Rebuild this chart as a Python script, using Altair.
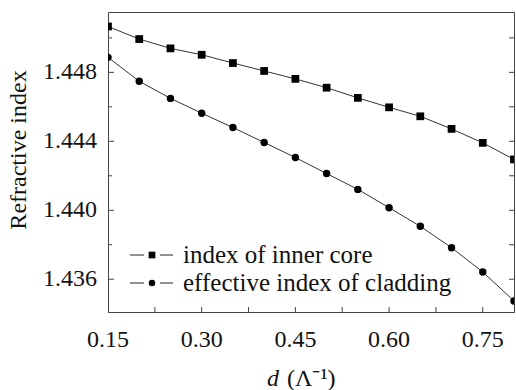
import altair as alt
import pandas as pd

# ---- data ----
d_vals = [0.15, 0.20, 0.25, 0.30, 0.35, 0.40, 0.45, 0.50, 0.55, 0.60, 0.65, 0.70, 0.75, 0.80]
inner_core = [1.45066, 1.44993, 1.44939, 1.44902, 1.44854, 1.44808, 1.44762, 1.44711,
              1.44652, 1.44597, 1.44545, 1.44472, 1.44391, 1.44295]
cladding = [1.44887, 1.44748, 1.44649, 1.44563, 1.44480, 1.44393, 1.44306, 1.44213,
            1.44121, 1.44015, 1.43907, 1.43783, 1.43642, 1.43474]
series_names = ["index of inner core", "effective index of cladding"]
x_tick_labels = [0.15, 0.30, 0.45, 0.60, 0.75]
y_tick_labels = [1.436, 1.440, 1.444, 1.448]
x_minor_ticks = [0.225, 0.30, 0.375, 0.45, 0.525, 0.60, 0.675, 0.75]
y_major_ticks = [1.436, 1.440, 1.444, 1.448]
y_minor_ticks = [1.438, 1.442, 1.446, 1.450]
y_right_ticks = [1.436, 1.438, 1.440, 1.442, 1.444, 1.446, 1.448, 1.450]
y_title = "Refractive index"

FONT = "Liberation Serif"
FS = 24
W, H = 406, 300

core_df = pd.DataFrame({"d": d_vals, "n": inner_core})
clad_df = pd.DataFrame({"d": d_vals, "n": cladding})

xscale = alt.Scale(domain=[0.15, 0.80], nice=False, zero=False)
yscale = alt.Scale(domain=[1.4341, 1.4515], nice=False, zero=False)
XAX = alt.Axis(values=x_tick_labels, labels=False, ticks=False, grid=False, title=None,
               domainColor="#444")
YAX = alt.Axis(values=y_tick_labels, labels=False, ticks=False, grid=False, title=None,
               domainColor="#444")


def X(f):
    return alt.X(f, type="quantitative", scale=xscale, axis=XAX)


def Y(f):
    return alt.Y(f, type="quantitative", scale=yscale, axis=YAX)


LINE_COLOR = "#333"
TXT = "#111"

core_line = alt.Chart(core_df).mark_line(color=LINE_COLOR, strokeWidth=1, clip=True).encode(x=X("d"), y=Y("n"))
core_pts = alt.Chart(core_df).mark_point(shape="square", filled=True, color="#000", size=60, opacity=1, clip=True).encode(x=X("d"), y=Y("n"))
clad_line = alt.Chart(clad_df).mark_line(color=LINE_COLOR, strokeWidth=1, clip=True).encode(x=X("d"), y=Y("n"))
clad_pts = alt.Chart(clad_df).mark_point(shape="circle", filled=True, color="#000", size=55, opacity=1, clip=True).encode(x=X("d"), y=Y("n"))

# inward ticks
bx = alt.Chart(pd.DataFrame({"v": x_minor_ticks})).mark_rule(color="#444").encode(
    x=X("v"), y=alt.value(H), y2=alt.value(H - 5))
ly_major = alt.Chart(pd.DataFrame({"v": y_major_ticks})).mark_rule(color="#444").encode(
    y=Y("v"), x=alt.value(0), x2=alt.value(6))
ly_minor = alt.Chart(pd.DataFrame({"v": y_minor_ticks})).mark_rule(color="#444").encode(
    y=Y("v"), x=alt.value(0), x2=alt.value(4))
ry = alt.Chart(pd.DataFrame({"v": y_right_ticks})).mark_rule(color="#444").encode(
    y=Y("v"), x=alt.value(W), x2=alt.value(W - 5))

# tick labels (through the scales)
xlab = alt.Chart(pd.DataFrame({"v": x_tick_labels})).mark_text(
    align="center", baseline="middle", font=FONT, fontSize=FS, color=TXT).encode(
    x=X("v"), y=alt.value(H + 28), text=alt.Text("v:Q", format=".2f"))
ylab = alt.Chart(pd.DataFrame({"v": y_tick_labels})).mark_text(
    align="right", baseline="middle", font=FONT, fontSize=FS, color=TXT).encode(
    y=Y("v"), x=alt.value(-11), text=alt.Text("v:Q", format=".3f"))

# legend  (—■—  label)
leg = []
for i, (name, shape, sz) in enumerate(zip(series_names, ["square", "circle"], [45, 42])):
    yy = 243 + i * 28
    src = alt.Chart(pd.DataFrame({"label": [name]}))
    leg.append(src.mark_rule(color="#222", strokeWidth=1).encode(
        x=alt.value(22), x2=alt.value(36), y=alt.value(yy)))
    leg.append(src.mark_rule(color="#222", strokeWidth=1).encode(
        x=alt.value(52), x2=alt.value(65), y=alt.value(yy)))
    leg.append(src.mark_point(shape=shape, filled=True, color="#000", size=sz, opacity=1).encode(
        x=alt.value(44), y=alt.value(yy)))
    leg.append(src.mark_text(align="left", baseline="middle", font=FONT, fontSize=25, color=TXT).encode(
        x=alt.value(75), y=alt.value(yy), text="label:N"))

# axis titles: italic d + (Λ⁻¹); rotated y title
tsrc = alt.Chart(pd.DataFrame({"a": ["d"], "b": ["(Λ\u207b\u00b9)"], "t": [y_title]}))
xt1 = tsrc.mark_text(align="left", baseline="middle", font=FONT, fontSize=FS, fontStyle="italic", color=TXT).encode(
    x=alt.value(159), y=alt.value(367), text="a:N")
xt2 = tsrc.mark_text(align="left", baseline="middle", font=FONT, fontSize=FS, color=TXT).encode(
    x=alt.value(179), y=alt.value(367), text="b:N")
yt = tsrc.mark_text(align="center", baseline="middle", font=FONT, fontSize=FS, angle=270, color=TXT).encode(
    x=alt.value(-89), y=alt.value(138), text="t:N")

chart = alt.layer(core_line, clad_line, core_pts, clad_pts, bx, ly_major, ly_minor, ry,
                  xlab, ylab, *leg, xt1, xt2, yt).properties(
    width=W, height=H,
    autosize=alt.AutoSizeParams(type="none"),
    padding={"left": 108, "top": 12, "right": 2, "bottom": 78},
    background="white",
).configure_view(stroke="#444", strokeWidth=1)

chart.save("out.html", embed_options={"renderer": "svg", "actions": False})
